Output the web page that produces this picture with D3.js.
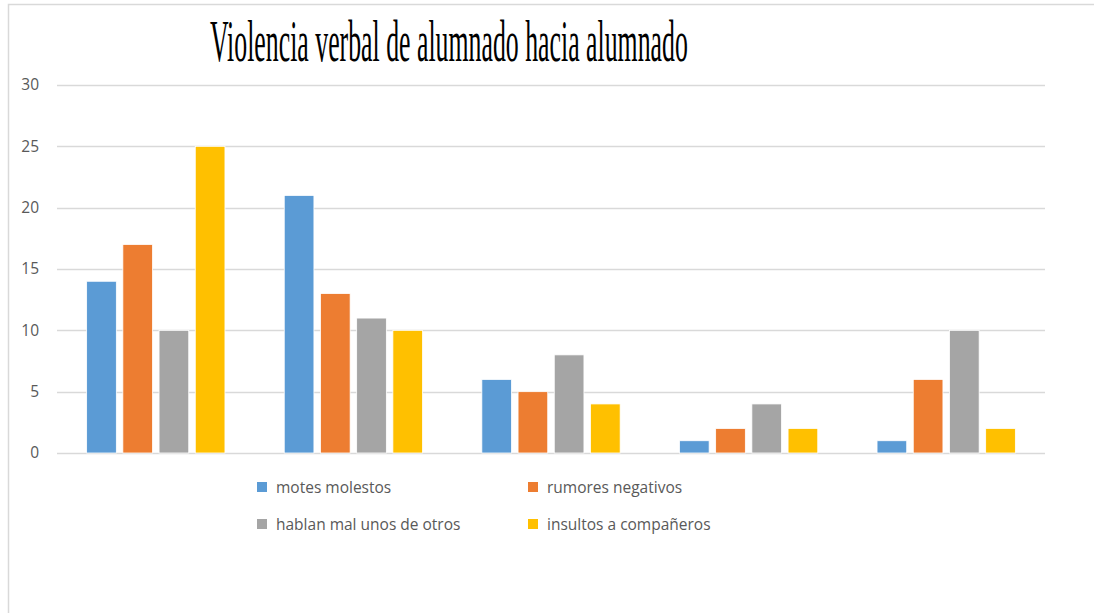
<!DOCTYPE html>
<html lang="es">
  <head>
    <meta charset="UTF-8" />
    <title>Violencia verbal de alumnado hacia alumnado</title>
    <script src="https://cdn.jsdelivr.net/npm/d3@7"></script>
    <style>
      body { margin: 0; background: #fff; }
      svg { display: block; }
    </style>
  </head>
  <body>
    <svg id="chart"></svg>
    <script>
      // datos
      const categories = ["g1", "g2", "g3", "g4", "g5"];
      const seriesNames = [
        "motes molestos",
        "rumores negativos",
        "hablan mal unos de otros",
        "insultos a compañeros",
      ];
      const motes = [14, 21, 6, 1, 1];
      const rumores = [17, 13, 5, 2, 6];
      const hablan = [10, 11, 8, 4, 10];
      const insultos = [25, 10, 4, 2, 2];
      const yTicks = [0, 5, 10, 15, 20, 25, 30];
      const colors = ["#5b9bd5", "#ed7d31", "#a5a5a5", "#ffc000"];

      const values = [motes, rumores, hablan, insultos];
      const W = 1094, H = 613;
      const svg = d3.select("#chart").attr("width", W).attr("height", H);

      // marco
      svg.append("path")
        .attr("d", `M8.5,${H} L8.5,4.5 L${W},4.5`)
        .attr("fill", "none")
        .attr("stroke", "#d9d9d9")
        .attr("stroke-width", 1.5);

      const x0 = d3.scaleBand().domain(categories).range([57, 1045]).paddingInner(0.3).paddingOuter(0.15);
      const x1 = d3.scaleBand().domain(d3.range(4)).range([0, x0.bandwidth()]).paddingInner(0.18);
      const y = d3.scaleLinear().domain([0, 30]).range([453, 85]);

      // rejilla
      svg.append("g")
        .selectAll("line")
        .data(yTicks)
        .join("line")
        .attr("x1", 57).attr("x2", 1045)
        .attr("y1", d => Math.round(y(d)) + 0.5)
        .attr("y2", d => Math.round(y(d)) + 0.5)
        .attr("stroke", "#d9d9d9")
        .attr("stroke-width", 1.3);

      const yAxis = svg.append("g")
        .attr("transform", "translate(39,0)")
        .call(d3.axisLeft(y).tickValues(yTicks).tickSize(0).tickPadding(0));
      yAxis.select(".domain").remove();
      yAxis.selectAll("text")
        .attr("fill", "#595959")
        .attr("font-family", "'Open Sans', sans-serif")
        .attr("font-size", 15.5);

      // barras
      const rows = categories.map((c, i) => ({ c, vals: values.map(s => s[i]) }));
      svg.append("g")
        .selectAll("g")
        .data(rows)
        .join("g")
        .attr("transform", d => `translate(${x0(d.c)},0)`)
        .selectAll("rect")
        .data(d => d.vals.map((v, k) => ({ v, k })))
        .join("rect")
        .attr("x", d => x1(d.k))
        .attr("width", x1.bandwidth())
        .attr("y", d => y(d.v))
        .attr("height", d => y(0) - y(d.v))
        .attr("fill", d => colors[d.k])
        .attr("stroke", "#fff")
        .attr("stroke-width", 0.8);

      // título
      const title = svg.append("text")
        .attr("font-family", "'Liberation Serif', 'Times New Roman', serif")
        .attr("font-size", 60)
        .attr("fill", "#000")
        .text("Violencia verbal de alumnado hacia alumnado");
      const tw = title.node().getComputedTextLength();
      const sx = 478 / tw;
      title.attr("transform", `translate(210,61) scale(${sx},1)`);

      // leyenda
      const legendPos = [[257, 487], [528, 487], [257, 524], [528, 524]];
      const legend = svg.append("g")
        .selectAll("g")
        .data(seriesNames)
        .join("g")
        .attr("transform", (d, i) => `translate(${legendPos[i][0]},${legendPos[i][1]})`);
      legend.append("rect")
        .attr("x", 0).attr("y", -5).attr("width", 10).attr("height", 10)
        .attr("fill", (d, i) => colors[i]);
      legend.append("text")
        .attr("x", 19).attr("y", 5.5)
        .attr("fill", "#595959")
        .attr("font-family", "'Open Sans', sans-serif")
        .attr("font-size", 15.5)
        .text(d => d);
    </script>
  </body>
</html>
